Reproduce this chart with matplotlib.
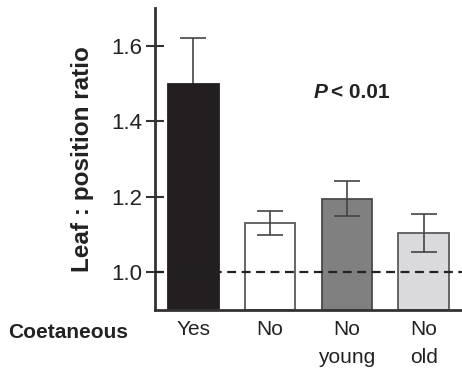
import matplotlib.pyplot as plt
import numpy as np

plt.rcParams["font.family"] = ["Liberation Sans", "DejaVu Sans"]

# Datos
categorias = ["Yes", "No", "No\nyoung", "No\nold"]
medias = [1.50, 1.13, 1.195, 1.103]
error_inferior = [0.12, 0.032, 0.046, 0.050]
error_superior = [0.12, 0.032, 0.046, 0.051]
colores = ["#231f20", "#ffffff", "#808080", "#dadadc"]
bordes = ["#231f20", "#5a5a5a", "#4a4a4a", "#5a5a5a"]
ticks_y = [1.0, 1.2, 1.4, 1.6]


def main() -> None:
    fig = plt.figure(figsize=(4.62, 3.71), dpi=100)
    ax = fig.add_axes([0.3355, 0.1644, 0.6645, 0.8140])

    x = np.arange(len(categorias))
    ax.bar(x, np.array(medias) - 0.9, bottom=0.9, width=0.66,
           color=colores, edgecolor=bordes, linewidth=1.3, zorder=2)
    # La barra negra tapa la parte inferior de su barra de error
    for i in range(len(categorias)):
        ax.errorbar(x[i], medias[i],
                    yerr=[[error_inferior[i]], [error_superior[i]]],
                    fmt="none", ecolor="#444444", elinewidth=1.2,
                    capsize=9.5, capthick=1.2,
                    zorder=1.5 if i == 0 else 3)
    ax.axhline(1.0, color="#222222", linestyle=(0, (4, 2.5)), linewidth=1.6,
               zorder=4)

    ax.set_xlim(-0.5, 3.5)
    ax.set_ylim(0.9, 1.7)
    ax.set_yticks(ticks_y)
    ax.set_yticklabels([f"{v:.1f}" for v in ticks_y], fontsize=16,
                       color="#222222")
    ax.set_xticks(x)
    ax.set_xticklabels(categorias, fontsize=15, color="#222222",
                       linespacing=1.6, va="top")

    ax.tick_params(axis="y", direction="inout", length=13, width=1.5,
                   color="#333333", pad=3)
    ax.tick_params(axis="x", length=0, pad=7)

    for lado in ("top", "right"):
        ax.spines[lado].set_visible(False)
    for lado in ("left", "bottom"):
        ax.spines[lado].set_linewidth(2.0)
        ax.spines[lado].set_color("#333333")

    ax.set_ylabel("Leaf : position ratio", fontsize=17.5, fontweight="bold",
                  color="#222222", labelpad=12)

    ax.text(1.57, 1.477, "P", fontsize=15, fontweight="bold", style="italic",
            ha="left", va="center", color="#222222")
    ax.text(1.79, 1.477, "< 0.01", fontsize=15, fontweight="bold",
            ha="left", va="center", color="#222222")

    fig.text(0.017, 0.105, "Coetaneous", fontsize=15, fontweight="bold",
             ha="left", va="center", color="#222222")

    fig.savefig("out.png", dpi=100)
    plt.close(fig)


if __name__ == "__main__":
    main()
